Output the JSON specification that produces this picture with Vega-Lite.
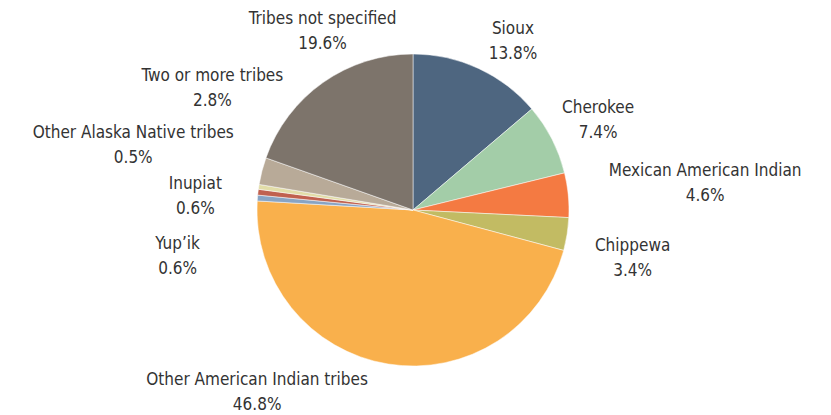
{
  "$schema": "https://vega.github.io/schema/vega-lite/v6.json",
  "width": 826,
  "height": 410,
  "autosize": {"type": "none"},
  "padding": {"left": 0, "top": 5, "right": 5, "bottom": 0},
  "background": "white",
  "view": {"stroke": null},
  "data": {
    "values": [
      {"tribe": "Sioux", "pct": 13.8},
      {"tribe": "Cherokee", "pct": 7.4},
      {"tribe": "Mexican American Indian", "pct": 4.6},
      {"tribe": "Chippewa", "pct": 3.4},
      {"tribe": "Other American Indian tribes", "pct": 46.8},
      {"tribe": "Yup’ik", "pct": 0.6},
      {"tribe": "Inupiat", "pct": 0.6},
      {"tribe": "Other Alaska Native tribes", "pct": 0.5},
      {"tribe": "Two or more tribes", "pct": 2.8},
      {"tribe": "Tribes not specified", "pct": 19.6}
    ]
  },
  "transform": [
    {"window": [{"op": "row_number", "as": "idx"}]},
    {"calculate": "[datum.tribe, format(datum.pct, '.1f') + '%']", "as": "label"}
  ],
  "encoding": {
    "theta": {"field": "pct", "type": "quantitative", "stack": true},
    "order": {"field": "idx", "type": "quantitative"}
  },
  "layer": [
    {
      "mark": {"type": "arc", "outerRadius": 156, "stroke": "white", "strokeWidth": 0.5},
      "encoding": {
        "color": {
          "field": "tribe",
          "type": "nominal",
          "legend": null,
          "scale": {
            "domain": ["Sioux", "Cherokee", "Mexican American Indian", "Chippewa", "Other American Indian tribes", "Yup’ik", "Inupiat", "Other Alaska Native tribes", "Two or more tribes", "Tribes not specified"],
            "range": ["#4e6680", "#a3cda8", "#f47a42", "#c2bb63", "#f9b04c", "#88a4c4", "#c0614f", "#e2dda8", "#b8aa98", "#7d746b"]
          }
        }
      }
    },
    {
      "mark": {
        "type": "text",
        "radius": 200,
        "font": "DejaVu Sans Condensed, Liberation Sans Narrow, sans-serif",
        "fontSize": 17,
        "lineHeight": 25,
        "fill": "#333333",
        "align": "center",
        "baseline": "middle",
        "dx": {"expr": "[16, 7, 93, 22, -124, -36, -19, -82, -7, 25][datum.idx - 1]"},
        "dy": {"expr": "[1, -11.5, -19.5, 5.5, -27.5, 49.5, -3.5, -47.5, -84.5, -27.5][datum.idx - 1]"}
      },
      "encoding": {
        "text": {"field": "label"}
      }
    }
  ]
}
